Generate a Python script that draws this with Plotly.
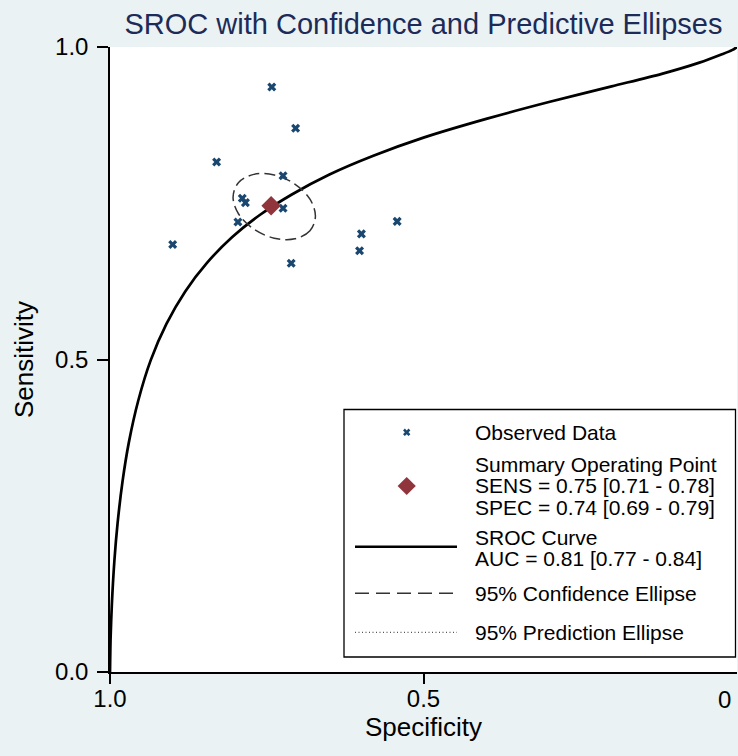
import plotly.graph_objects as go

# ---------------- data ----------------
obs_spec = [0.742, 0.704, 0.830, 0.724, 0.789, 0.784, 0.724, 0.796, 0.900, 0.711, 0.599, 0.602, 0.542]
obs_sens = [0.936, 0.870, 0.816, 0.794, 0.758, 0.751, 0.742, 0.720, 0.684, 0.654, 0.701, 0.674, 0.721]

summary_spec = [0.743]
summary_sens = [0.746]

sroc_spec = [1.000, 0.999, 0.997, 0.993, 0.988, 0.980, 0.970, 0.955, 0.935, 0.910, 0.880, 0.845,
             0.805, 0.760, 0.710, 0.650, 0.580, 0.500, 0.400, 0.300, 0.200, 0.120, 0.060, 0.025,
             0.008, 0.000]
sroc_sens = [0.000, 0.056, 0.109, 0.178, 0.237, 0.305, 0.367, 0.434, 0.499, 0.557, 0.609, 0.655,
             0.696, 0.732, 0.764, 0.796, 0.826, 0.855, 0.885, 0.912, 0.937, 0.957, 0.975, 0.988,
             0.995, 1.000]

conf_spec = [0.6724, 0.6811, 0.7052, 0.7380, 0.7708, 0.7949, 0.8037, 0.7949, 0.7708, 0.7380, 0.7052, 0.6811, 0.6724]
conf_sens = [0.7293, 0.7061, 0.6931, 0.6941, 0.7087, 0.7328, 0.7601, 0.7833, 0.7962, 0.7953, 0.7807, 0.7565, 0.7293]

x_tickvals = [1.0, 0.5]
x_ticktext = ["1.0", "0.5"]
x_end_label = "0"
y_tickvals = [0.0, 0.5, 1.0]
y_ticktext = ["0.0", "0.5", "1.0"]

title_text = "SROC with Confidence and Predictive Ellipses"
x_title = "Specificity"
y_title = "Sensitivity"

legend_observed = "Observed Data"
legend_summary = ["Summary Operating Point", "SENS = 0.75 [0.71 - 0.78]", "SPEC = 0.74 [0.69 - 0.79]"]
legend_sroc = ["SROC Curve", "AUC = 0.81 [0.77 - 0.84]"]
legend_conf = "95% Confidence Ellipse"
legend_pred = "95% Prediction Ellipse"

# ---------------- styling / layout ----------------
W, H = 738, 756
L, R, T, B = 110, 1, 47, 84
PW, PH = W - L - R, H - T - B
FONT = "Liberation Sans, Arial, Helvetica, sans-serif"
BG = "#EAF2F3"
NAVY = "#1a476f"
MAROON = "#90353b"


def px(x):
    return (x - L) / PW


def py(y):
    return (H - B - y) / PH


fig = go.Figure()

fig.add_trace(go.Scatter(
    x=sroc_spec, y=sroc_sens, mode="lines",
    line=dict(color="black", width=2.7, shape="spline", smoothing=0.8),
    hoverinfo="skip"))

fig.add_trace(go.Scatter(
    x=conf_spec, y=conf_sens, mode="lines",
    line=dict(color="#333333", width=1.5, dash="11px,5px", shape="spline", smoothing=1.0),
    hoverinfo="skip"))

fig.add_trace(go.Scatter(
    x=obs_spec, y=obs_sens, mode="markers",
    marker=dict(symbol="x", size=8, color=NAVY, line=dict(width=0))))

fig.add_trace(go.Scatter(
    x=summary_spec, y=summary_sens, mode="markers",
    marker=dict(symbol="diamond", size=15, color=MAROON, line=dict(width=0))))

# legend sample markers on a hidden overlay axis
fig.add_trace(go.Scatter(
    x=[px(406.7)], y=[py(432.3)], xaxis="x2", yaxis="y2", mode="markers",
    marker=dict(symbol="x", size=6.5, color=NAVY, line=dict(width=0)),
    cliponaxis=False, hoverinfo="skip"))
fig.add_trace(go.Scatter(
    x=[px(406.7)], y=[py(486)], xaxis="x2", yaxis="y2", mode="markers",
    marker=dict(symbol="diamond", size=14, color=MAROON, line=dict(width=0)),
    cliponaxis=False, hoverinfo="skip"))

shapes = [
    # legend box
    dict(type="rect", xref="paper", yref="paper", x0=px(344), x1=px(735.5), y0=py(657), y1=py(409.5),
         line=dict(color="black", width=1.3), fillcolor="white", layer="below"),
    dict(type="line", xref="paper", yref="paper", x0=px(355), x1=px(457), y0=py(546.7), y1=py(546.7),
         line=dict(color="black", width=2.5)),
    dict(type="line", xref="paper", yref="paper", x0=px(355), x1=px(457), y0=py(593.3), y1=py(593.3),
         line=dict(color="#333333", width=1.5, dash="14px,7px")),
    dict(type="line", xref="paper", yref="paper", x0=px(355), x1=px(457), y0=py(632.3), y1=py(632.3),
         line=dict(color="#555555", width=1.2, dash="1px,2.5px")),
]

annotations = []
leg_rows = [(legend_observed, 432.3),
            (legend_summary[0], 464.5), (legend_summary[1], 485.7), (legend_summary[2], 507.0),
            (legend_sroc[0], 537.2), (legend_sroc[1], 558.5),
            (legend_conf, 593.3), (legend_pred, 632.3)]
for txt, yy in leg_rows:
    annotations.append(dict(text=txt, xref="paper", yref="paper", x=px(474), y=py(yy),
                            xanchor="left", yanchor="middle", showarrow=False, borderpad=0,
                            font=dict(family=FONT, size=21, color="black")))

annotations.append(dict(text=x_end_label, xref="x", yref="paper", x=0, y=0, xanchor="right",
                        yanchor="middle", xshift=-4, yshift=-27, showarrow=False,
                        font=dict(family=FONT, size=24, color="black")))

fig.update_layout(
    width=W, height=H,
    margin=dict(l=L, r=R, t=T, b=B, pad=0),
    paper_bgcolor=BG, plot_bgcolor="white",
    showlegend=False,
    font=dict(family=FONT, color="black"),
    title=dict(text=title_text, x=px(423.5), xref="paper", xanchor="center",
               y=1 - 23.5 / H, yanchor="middle",
               font=dict(family=FONT, size=29, color="#1c2b57")),
    xaxis=dict(range=[1, 0], tickvals=x_tickvals, ticktext=x_ticktext,
               showgrid=False, zeroline=False, showline=True, linecolor="black", linewidth=1.5,
               ticks="outside", ticklen=10, tickwidth=1.5, tickcolor="black",
               tickfont=dict(family=FONT, size=24, color="black"), ticklabelstandoff=-6,
               title=dict(text=x_title, font=dict(family=FONT, size=26, color="black"), standoff=6),
               automargin=False, fixedrange=True),
    yaxis=dict(range=[0, 1], tickvals=y_tickvals, ticktext=y_ticktext,
               showgrid=False, zeroline=False, showline=True, linecolor="black", linewidth=1.5,
               ticks="outside", ticklen=11, tickwidth=1.5, tickcolor="black",
               tickfont=dict(family=FONT, size=24, color="black"), ticklabelstandoff=4,
               title=dict(text=y_title, font=dict(family=FONT, size=26, color="black"), standoff=14),
               automargin=False, fixedrange=True),
    xaxis2=dict(range=[0, 1], domain=[0, 1], overlaying="x", visible=False, fixedrange=True),
    yaxis2=dict(range=[0, 1], domain=[0, 1], overlaying="y", visible=False, fixedrange=True),
    shapes=shapes,
    annotations=annotations,
)

fig.write_html("out.html", config={"displayModeBar": False},
               post_script="document.body.style.margin='0';document.body.style.overflow='hidden';")
